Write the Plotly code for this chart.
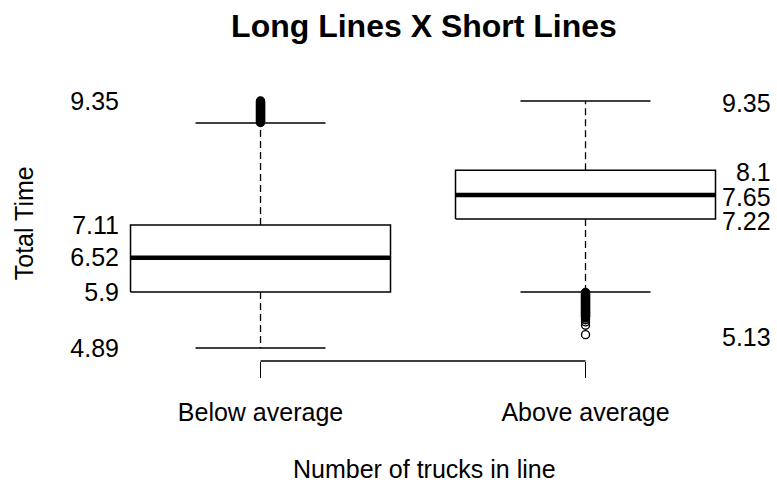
import plotly.graph_objects as go

# Box summaries for total time, grouped by line length
groups = ["Below average", "Above average"]
positions = [1, 2]
q1 = [5.90, 7.22]
median = [6.52, 7.65]
q3 = [7.11, 8.10]
whisker_low = [4.89, 5.90]
whisker_high = [8.95, 9.35]

# Points beyond the whiskers
outliers_below = [8.96, 8.97, 8.98, 8.99, 9.00, 9.01, 9.02, 9.03, 9.04, 9.05,
                  9.06, 9.07, 9.08, 9.09, 9.10, 9.11, 9.12, 9.13, 9.14, 9.15,
                  9.16, 9.17, 9.18, 9.19, 9.20, 9.21, 9.22, 9.23, 9.24, 9.25,
                  9.26, 9.27, 9.28, 9.29, 9.30, 9.31, 9.32, 9.33, 9.34, 9.35]
outliers_above = [5.89, 5.88, 5.87, 5.86, 5.85, 5.84, 5.83, 5.82, 5.81, 5.80,
                  5.79, 5.78, 5.77, 5.76, 5.75, 5.74, 5.73, 5.72, 5.71, 5.70,
                  5.69, 5.68, 5.67, 5.66, 5.65, 5.64, 5.63, 5.62, 5.61, 5.60,
                  5.59, 5.58, 5.57, 5.56, 5.55, 5.54, 5.53, 5.52, 5.51, 5.50,
                  5.49, 5.48, 5.47, 5.46, 5.45, 5.43, 5.40, 5.36, 5.30, 5.13]
outliers = [outliers_below, outliers_above]

# Labels printed beside each box
left_labels = ["9.35", "7.11", "6.52", "5.9", "4.89"]
left_values = [9.35, 7.11, 6.52, 5.9, 4.89]
right_labels = ["9.35", "8.1", "7.65", "7.22", "5.13"]
right_values = [9.35, 8.10, 7.65, 7.22, 5.13]

BOX_W = 0.8
CAP_W = 0.4
FONT = "Liberation Sans, Arial, sans-serif"
BLACK = "#000000"
TEXT_SIZE = 25

fig = go.Figure()

for pos, lo_q, med, hi_q, wl, wh, pts in zip(positions, q1, median, q3,
                                            whisker_low, whisker_high, outliers):
    x0, x1 = pos - BOX_W / 2, pos + BOX_W / 2
    c0, c1 = pos - CAP_W / 2, pos + CAP_W / 2
    # dashed whiskers
    fig.add_trace(go.Scatter(
        x=[pos, pos, None, pos, pos], y=[hi_q, wh, None, lo_q, wl],
        mode="lines", line=dict(color=BLACK, width=1.3, dash="7px,4px"),
        hoverinfo="skip"))
    # whisker caps
    fig.add_trace(go.Scatter(
        x=[c0, c1, None, c0, c1], y=[wh, wh, None, wl, wl],
        mode="lines", line=dict(color=BLACK, width=1.5), hoverinfo="skip"))
    # box
    fig.add_trace(go.Scatter(
        x=[x0, x1, x1, x0, x0], y=[lo_q, lo_q, hi_q, hi_q, lo_q],
        mode="lines", line=dict(color=BLACK, width=1.5),
        fill="toself", fillcolor="white", hoverinfo="skip"))
    # median
    fig.add_trace(go.Scatter(
        x=[x0, x1], y=[med, med], mode="lines",
        line=dict(color=BLACK, width=4.5), hoverinfo="skip"))
    # outliers
    fig.add_trace(go.Scatter(
        x=[pos] * len(pts), y=pts, mode="markers",
        marker=dict(symbol="circle-open", size=8, color=BLACK,
                    line=dict(width=1.4, color=BLACK)),
        hoverinfo="y"))

# x axis baseline between the two group ticks
fig.add_shape(type="line", xref="x", yref="paper",
              x0=positions[0], x1=positions[-1], y0=0, y1=0,
              line=dict(color=BLACK, width=1.3))

# labels on the right side
for lab, val in zip(right_labels, right_values):
    fig.add_annotation(text=lab, xref="paper", yref="y", x=1.085, y=val,
                       xanchor="right", yanchor="middle", yshift=-2,
                       showarrow=False,
                       font=dict(family=FONT, size=TEXT_SIZE, color=BLACK))

# axis titles
fig.add_annotation(text="Number of trucks in line", xref="paper", yref="paper",
                   x=0.501, y=-0.396, xanchor="center", yanchor="middle",
                   showarrow=False, font=dict(family=FONT, size=TEXT_SIZE, color=BLACK))
fig.add_annotation(text="Total Time", xref="paper", yref="paper",
                   x=-0.169, y=0.505, xanchor="center", yanchor="middle",
                   textangle=-90, showarrow=False,
                   font=dict(family=FONT, size=TEXT_SIZE, color=BLACK))

fig.update_layout(
    width=777, height=484,
    margin=dict(l=125, r=55, t=88, b=123),
    paper_bgcolor="white", plot_bgcolor="white",
    showlegend=False,
    title=dict(text="<b>Long Lines X Short Lines</b>", x=424 / 777, y=1 - 26 / 484,
               xanchor="center", yanchor="middle", xref="container", yref="container",
               font=dict(family=FONT, size=32, color=BLACK)),
    xaxis=dict(range=[0.583, 2.42], tickvals=positions, ticktext=groups,
               ticks="outside", ticklen=16, tickwidth=1.3, tickcolor=BLACK,
               ticklabelstandoff=13,
               showline=False, showgrid=False, zeroline=False,
               tickfont=dict(family=FONT, size=TEXT_SIZE, color=BLACK)),
    yaxis=dict(range=[4.654, 9.584], tickvals=left_values, ticktext=left_labels,
               ticks="", showline=False, showgrid=False, zeroline=False,
               ticklabelstandoff=5,
               tickfont=dict(family=FONT, size=TEXT_SIZE, color=BLACK)),
)

fig.write_html("out.html")
